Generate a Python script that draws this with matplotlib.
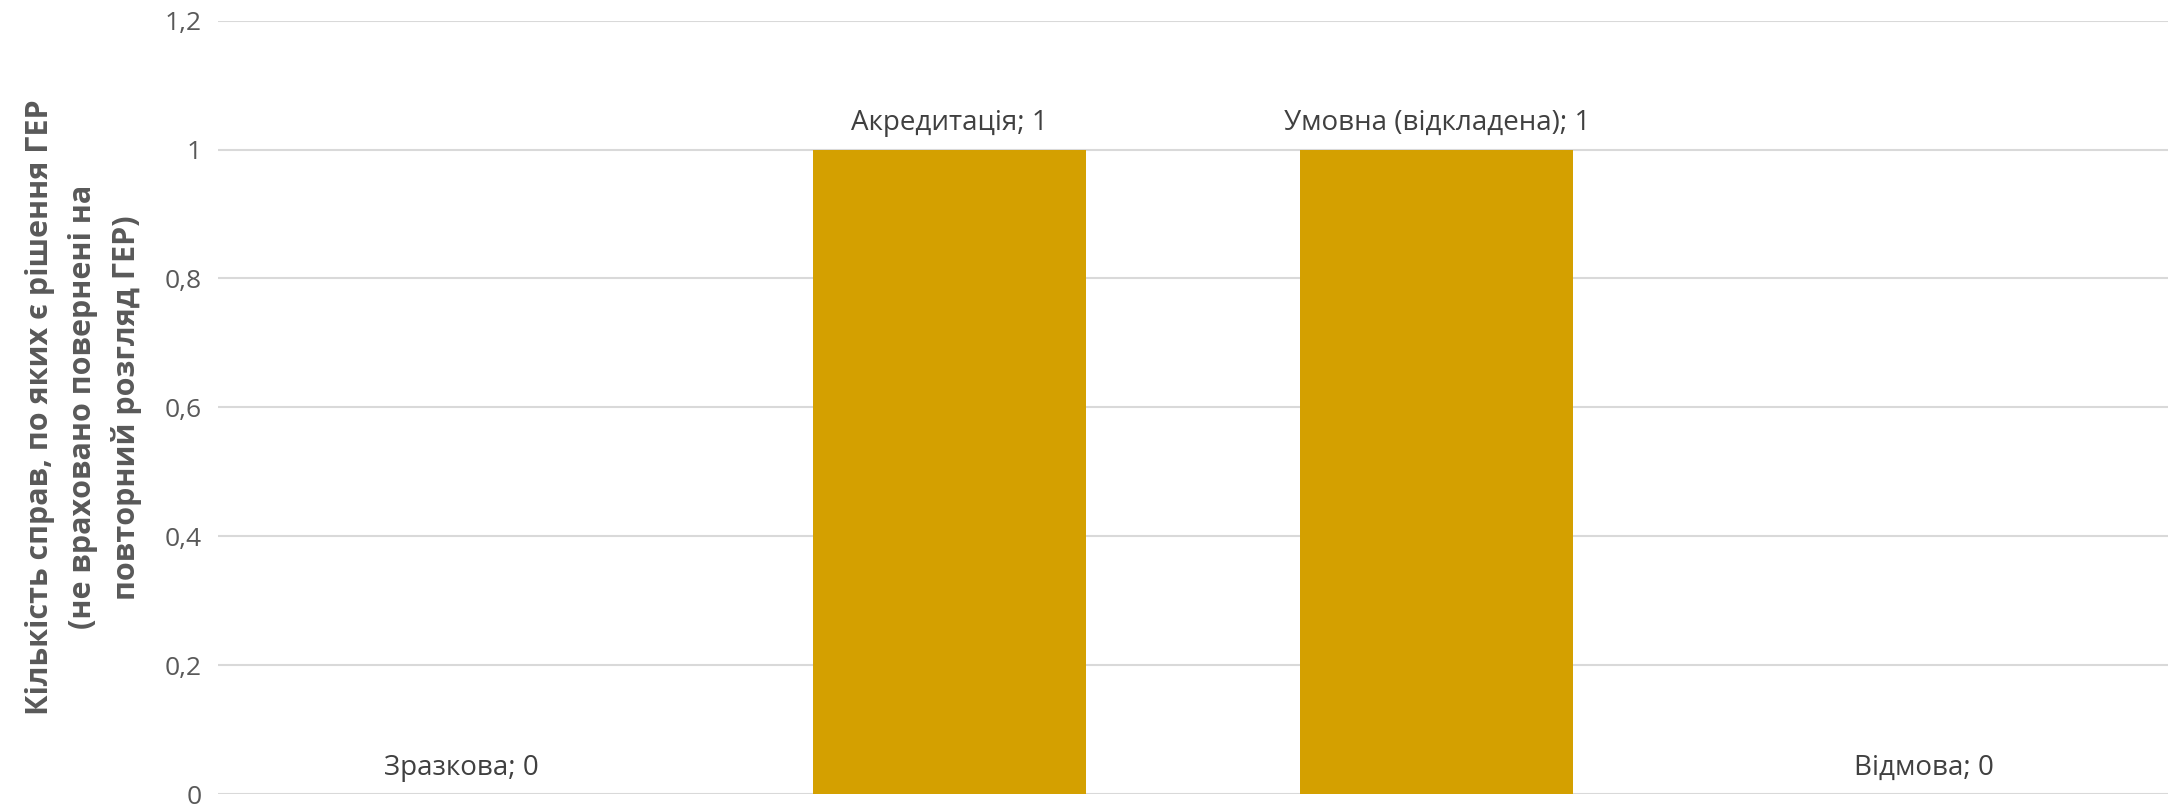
import matplotlib
matplotlib.use("Agg")
import matplotlib.pyplot as plt
from matplotlib.ticker import FuncFormatter

categories = ['Зразкова', 'Акредитація', 'Умовна (відкладена)', 'Відмова']
values = [0, 1, 1, 0]
y_ticks = [0, 0.2, 0.4, 0.6, 0.8, 1, 1.2]
y_label = 'Кількість справ, по яких є рішення ГЕР\n(не враховано повернені на\nповторний розгляд ГЕР)'

plt.rcParams['font.family'] = ['Open Sans', 'DejaVu Sans']

fig = plt.figure(figsize=(21.7, 8.08), dpi=100)
ax = fig.add_axes([218 / 2170, (808 - 794) / 808, 1950 / 2170, (794 - 20.7) / 808])

x = range(len(categories))
ax.bar(x, values, width=0.56, color='#D4A000', zorder=3)

for xi, cat, v in zip(x, categories, values):
    ax.annotate(f'{cat}; {v}', xy=(xi, v), xytext=(0, 9), textcoords='offset points',
                ha='center', va='bottom', fontsize=20, color='#404040', zorder=4)

ax.set_xlim(-0.5, len(categories) - 0.5)
ax.set_ylim(0, 1.2)
ax.set_yticks(y_ticks)
ax.yaxis.set_major_formatter(FuncFormatter(lambda v, p: f'{v:g}'.replace('.', ',')))
ax.tick_params(axis='y', length=0, labelsize=19, labelcolor='#595959', pad=12)
ax.set_xticks([])
ax.grid(axis='y', color='#D9D9D9', linewidth=1.5, zorder=0)
for s in ax.spines.values():
    s.set_visible(False)

ax.set_ylabel(y_label, fontsize=22, fontweight='bold', color='#595959', labelpad=16,
              linespacing=1.55)

fig.savefig('out.png', dpi=100)
